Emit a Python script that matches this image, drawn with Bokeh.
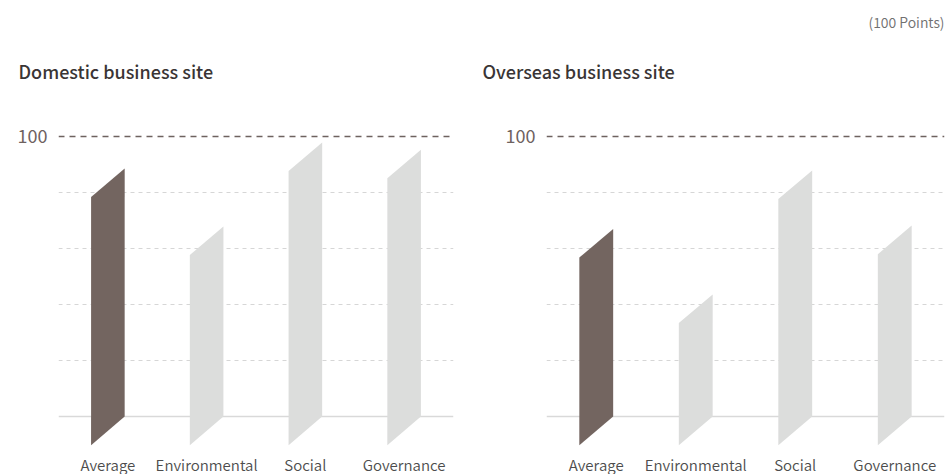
from bokeh.plotting import figure
from bokeh.models import Range1d, FixedTicker, Span, Title
from bokeh.core.properties import value
from bokeh.layouts import row
from bokeh.embed import file_html
from bokeh.resources import INLINE

categories = ["Average", "Environmental", "Social", "Governance"]
domestic_scores = [88.6, 67.9, 97.9, 95.3]
overseas_scores = [67.0, 43.6, 87.9, 68.2]
panel_titles = ["Domestic business site", "Overseas business site"]
unit_note = "(100 Points)"
grid_ticks = [20, 40, 60, 80]
max_tick = [100]

DARK = "#736560"
LIGHT = "#dcdddc"
FONT = "Noto Sans CJK KR"
FONT_MED = "Noto Sans CJK KR Medium"
FONT_LIGHT = "Noto Sans CJK KR DemiLight"
SLANT = 10.25
HALF = 0.17
LABEL_Y = -17.0   # baseline of the category labels, in value units


def style_title(t, text, off, standoff):
    t.text = text
    t.align = "left"
    t.offset = off
    t.standoff = standoff
    t.text_font = FONT_MED
    t.text_font_size = "18px"
    t.text_font_style = "normal"
    t.text_color = "#3a3535"


def make_panel(scores, title, left, right, title_off, note=None):
    p = figure(width=475, height=474, output_backend="svg", toolbar_location=None,
               x_range=Range1d(-0.5, 3.5), y_range=Range1d(-20.714, 112.857),
               x_axis_location=None,
               min_border_left=left, min_border_right=right,
               min_border_top=100, min_border_bottom=0)
    p.outline_line_color = None
    p.background_fill_color = "white"
    p.border_fill_color = "white"
    p.xgrid.visible = False
    p.ygrid.ticker = FixedTicker(ticks=grid_ticks)
    p.ygrid.grid_line_color = "#d6d6d6"
    p.ygrid.grid_line_dash = "4 4"
    p.ygrid.grid_line_width = 1

    p.yaxis.ticker = FixedTicker(ticks=max_tick)
    p.yaxis.axis_line_color = None
    p.yaxis.major_tick_line_color = None
    p.yaxis.minor_tick_line_color = None
    p.yaxis.major_tick_out = 0
    p.yaxis.major_tick_in = 0
    p.yaxis.major_label_standoff = 11
    p.yaxis.major_label_text_font = FONT
    p.yaxis.major_label_text_font_size = "18px"
    p.yaxis.major_label_text_color = "#6e625f"

    p.add_layout(Span(location=0, dimension="width", line_color="#d9d9d9",
                      line_width=1.5, level="underlay"))
    p.add_layout(Span(location=100, dimension="width", line_color="#6e625f",
                      line_width=1.5, line_dash="6 5", level="underlay"))

    idx = list(range(len(categories)))
    xs, ys, colors = [], [], []
    for i, v in zip(idx, scores):
        xs.append([i - HALF, i + HALF, i + HALF, i - HALF])
        ys.append([-SLANT, 0, v, v - SLANT])
        colors.append(DARK if i == 0 else LIGHT)
    p.patches(xs, ys, fill_color=colors, line_color=None)

    p.text(x=idx, y=[LABEL_Y] * len(idx), text=categories,
           text_font=value(FONT_LIGHT), text_font_size="15px",
           text_color="#4d4d4d", text_align="center", text_baseline="alphabetic")

    if note:
        p.title.text = note
        p.title.align = "right"
        p.title.offset = 0
        p.title.standoff = 15
        p.title.text_font = FONT_LIGHT
        p.title.text_font_size = "14px"
        p.title.text_font_style = "normal"
        p.title.text_color = "#707070"
        t = Title()
        style_title(t, title, title_off, 33)
        p.add_layout(t, "above")
    else:
        style_title(p.title, title, title_off, 33)
    return p


p1 = make_panel(domestic_scores, panel_titles[0], 58, 22, -40)
p2 = make_panel(overseas_scores, panel_titles[1], 71, 6, -64, note=unit_note)
layout = row(p1, p2, spacing=0)

open("out.html", "w").write(file_html(layout, INLINE))
